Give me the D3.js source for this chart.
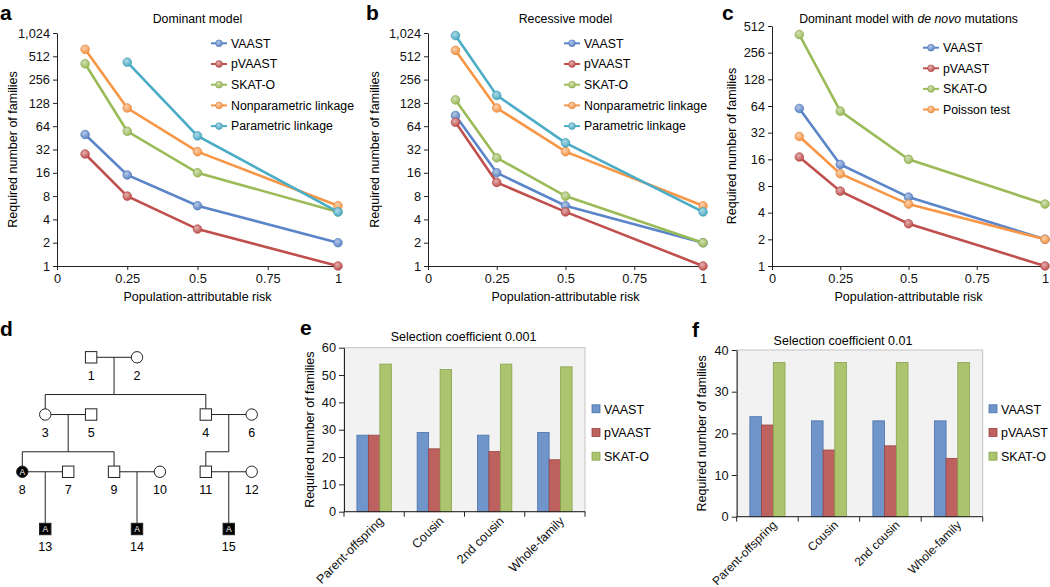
<!DOCTYPE html>
<html>
<head>
<meta charset="utf-8">
<script src="https://cdn.jsdelivr.net/npm/d3@7"></script>
<style>
  body { margin: 0; background: #fff; }
  svg { font-family: "Liberation Sans", Arial, Helvetica, sans-serif; }
  .axis text { font-size: 12.8px; fill: #111; }
  .axis path, .axis line { stroke: #222; }
</style>
</head>
<body>
<div id="fig"></div>
<script>
// ---- data ----
const parValues = [0.1, 0.25, 0.5, 1];
const parTicks = [0, 0.25, 0.5, 0.75, 1];
const logTicksAB = [1, 2, 4, 8, 16, 32, 64, 128, 256, 512, 1024];
const logTicksC = [1, 2, 4, 8, 16, 32, 64, 128, 256, 512];

// a: dominant model
const domVAAST = [50, 15, 6, 2];
const domPVAAST = [28, 8, 3, 1];
const domSKATO = [410, 55, 16, 5];
const domNonpar = [630, 110, 30, 6];
const domPar = [null, 430, 48, 5];

// b: recessive model
const recVAAST = [88, 16, 6, 2];
const recPVAAST = [72, 12, 5, 1];
const recSKATO = [140, 25, 8, 2];
const recNonpar = [610, 110, 30, 6];
const recPar = [950, 160, 39, 5];

// c: dominant model with de novo mutations
const dnVAAST = [60, 14, 6, 2];
const dnPVAAST = [17, 7, 3, 1];
const dnSKATO = [410, 56, 16, 5];
const dnPoisson = [29, 11, 5, 2];

// e, f: bar charts
const barCategories = ["Parent-offspring", "Cousin", "2nd cousin", "Whole-family"];
const barSeries = ["VAAST", "pVAAST", "SKAT-O"];
const s001VAAST = [28, 29, 28, 29];
const s001PVAAST = [28, 23, 22, 19];
const s001SKATO = [54, 52, 54, 53];
const s01VAAST = [24, 23, 23, 23];
const s01PVAAST = [22, 16, 17, 14];
const s01SKATO = [37, 37, 37, 37];

// d: pedigree (gen = generation row, col = grid column)
const pedIds = [1, 2, 3, 5, 4, 6, 8, 7, 9, 10, 11, 12, 13, 14, 15];
const pedSex = ["M", "F", "F", "M", "M", "F", "F", "M", "M", "F", "M", "F", "M", "M", "M"];
const pedGen = [0, 0, 1, 1, 1, 1, 2, 2, 2, 2, 2, 2, 3, 3, 3];
const pedCol = [3, 5, 1, 3, 8, 10, 0, 2, 4, 6, 8, 10, 1, 5, 9];
const pedAffected = [8, 13, 14, 15];
const pedUnions = [[1, 2], [3, 5], [4, 6], [8, 7], [9, 10], [11, 12]];
const pedChildren = [[3, 4], [8, 9], [11], [13], [14], [15]];

// ---- colours ----
const col = {
  "VAAST": "#5a85c9",
  "pVAAST": "#c0504d",
  "SKAT-O": "#9bbb59",
  "Nonparametric linkage": "#f79646",
  "Parametric linkage": "#4bacc6",
  "Poisson test": "#f79646"
};
const barFill = { "VAAST": "#6f95cb", "pVAAST": "#bd625f", "SKAT-O": "#adc46e" };
const barStroke = { "VAAST": "#4c72aa", "pVAAST": "#974341", "SKAT-O": "#87a34c" };

const width = 1050, height = 587;
const svg = d3.select("#fig").append("svg")
  .attr("width", width)
  .attr("height", height);

// marker gradients
const defs = svg.append("defs");
Object.entries(col).forEach(([k, c], i) => {
  const gr = defs.append("radialGradient")
    .attr("id", "mk" + i)
    .attr("cx", "40%").attr("cy", "35%").attr("r", "65%");
  gr.append("stop").attr("offset", "0%").attr("stop-color", d3.interpolateRgb(c, "#fff")(0.55));
  gr.append("stop").attr("offset", "100%").attr("stop-color", c);
  col[k + "_grad"] = "url(#mk" + i + ")";
});

function panelLabel(txt, x, y) {
  svg.append("text").attr("x", x).attr("y", y)
    .attr("font-size", 21).attr("font-weight", "bold").text(txt);
}

function yTitle(x, yMid) {
  svg.append("text")
    .attr("transform", `translate(${x},${yMid}) rotate(-90)`)
    .attr("text-anchor", "middle").attr("dy", "0.35em")
    .attr("font-size", 12.5)
    .text("Required number of families");
}

// ---- line panels (a, b, c) ----
function linePanel(o) {
  const x = d3.scaleLinear().domain([0, 1]).range([o.x0, o.x1]);
  const y = d3.scaleLog().base(2).domain([1, o.yMax]).range([o.yBot, o.yTop]);

  svg.append("g").attr("class", "axis")
    .attr("transform", `translate(0,${o.yBot})`)
    .call(d3.axisBottom(x).tickValues(parTicks).tickFormat(d => String(d)).tickSize(4).tickSizeOuter(0).tickPadding(4));
  svg.append("g").attr("class", "axis")
    .attr("transform", `translate(${o.x0},0)`)
    .call(d3.axisLeft(y).tickValues(o.ticks).tickFormat(d3.format(",")).tickSize(4).tickSizeOuter(0).tickPadding(3));

  const line = d3.line()
    .defined(d => d[1] != null)
    .x(d => x(d[0]))
    .y(d => y(d[1]));

  o.series.forEach(s => {
    const pts = parValues.map((v, i) => [v, s.values[i]]);
    svg.append("path")
      .attr("d", line(pts))
      .attr("fill", "none")
      .attr("stroke", col[s.name])
      .attr("stroke-width", 2.6);
    svg.selectAll(null)
      .data(pts.filter(d => d[1] != null))
      .enter().append("circle")
      .attr("cx", d => x(d[0]))
      .attr("cy", d => y(d[1]))
      .attr("r", 4.3)
      .attr("fill", col[s.name + "_grad"])
      .attr("stroke", d3.color(col[s.name]).darker(0.3))
      .attr("stroke-width", 0.7);
  });

  // legend
  o.series.forEach((s, i) => {
    const ly = o.legY + i * o.legStep;
    svg.append("line")
      .attr("x1", o.legX).attr("x2", o.legX + 16)
      .attr("y1", ly).attr("y2", ly)
      .attr("stroke", col[s.name]).attr("stroke-width", 2);
    svg.append("circle")
      .attr("cx", o.legX + 8).attr("cy", ly).attr("r", 3.4)
      .attr("fill", col[s.name + "_grad"])
      .attr("stroke", d3.color(col[s.name]).darker(0.3)).attr("stroke-width", 0.6);
    svg.append("text")
      .attr("x", o.legX + 20).attr("y", ly).attr("dy", "0.35em")
      .attr("font-size", 12.3).text(s.name);
  });

  // titles
  const t = svg.append("text")
    .attr("x", (o.x0 + o.x1) / 2).attr("y", 23)
    .attr("text-anchor", "middle").attr("font-size", 12.3);
  o.title.forEach(p => t.append("tspan").attr("font-style", p.italic ? "italic" : null).text(p.text));

  svg.append("text")
    .attr("x", (o.x0 + o.x1) / 2).attr("y", 301)
    .attr("text-anchor", "middle").attr("font-size", 12.5)
    .text("Population-attributable risk");
  yTitle(o.yTitleX, (o.yTop + o.yBot) / 2);
}

linePanel({
  x0: 57, x1: 338, yTop: 33, yBot: 266, yMax: 1024, ticks: logTicksAB,
  series: [
    { name: "VAAST", values: domVAAST },
    { name: "pVAAST", values: domPVAAST },
    { name: "SKAT-O", values: domSKATO },
    { name: "Nonparametric linkage", values: domNonpar },
    { name: "Parametric linkage", values: domPar }
  ],
  title: [{ text: "Dominant model" }],
  legX: 211, legY: 43.3, legStep: 20.7, yTitleX: 13
});

linePanel({
  x0: 428, x1: 703, yTop: 33, yBot: 266, yMax: 1024, ticks: logTicksAB,
  series: [
    { name: "VAAST", values: recVAAST },
    { name: "pVAAST", values: recPVAAST },
    { name: "SKAT-O", values: recSKATO },
    { name: "Nonparametric linkage", values: recNonpar },
    { name: "Parametric linkage", values: recPar }
  ],
  title: [{ text: "Recessive model" }],
  legX: 564, legY: 43.3, legStep: 20.7, yTitleX: 375
});

linePanel({
  x0: 772, x1: 1045, yTop: 26, yBot: 266, yMax: 512, ticks: logTicksC,
  series: [
    { name: "VAAST", values: dnVAAST },
    { name: "pVAAST", values: dnPVAAST },
    { name: "SKAT-O", values: dnSKATO },
    { name: "Poisson test", values: dnPoisson }
  ],
  title: [{ text: "Dominant model with " }, { text: "de novo", italic: true }, { text: " mutations" }],
  legX: 923, legY: 47.7, legStep: 20.6, yTitleX: 732
});

panelLabel("a", 0, 20);
panelLabel("b", 366, 20);
panelLabel("c", 722, 20);

// ---- pedigree (d) ----
const pcx = d3.scaleLinear().domain([0, 10]).range([22.3, 251.7]);
const pgy = d3.scaleLinear().domain([0, 3]).range([357.3, 529]);
const ped = pedIds.map((id, i) => ({
  id, sex: pedSex[i], x: pcx(pedCol[i]), y: pgy(pedGen[i]), aff: pedAffected.includes(id)
}));
const byId = new Map(ped.map(p => [p.id, p]));
const pg = svg.append("g").attr("stroke", "#222").attr("stroke-width", 1);

pedUnions.forEach((u, i) => {
  const a = byId.get(u[0]), b = byId.get(u[1]);
  pg.append("line").attr("x1", a.x).attr("x2", b.x).attr("y1", a.y).attr("y2", a.y);
  const mx = (a.x + b.x) / 2;
  const kids = pedChildren[i].map(k => byId.get(k));
  const sy = kids[0].y - 20;
  pg.append("line").attr("x1", mx).attr("x2", mx).attr("y1", a.y).attr("y2", sy);
  const xs = kids.map(k => k.x).concat([mx]);
  pg.append("line").attr("x1", d3.min(xs)).attr("x2", d3.max(xs)).attr("y1", sy).attr("y2", sy);
  kids.forEach(k => pg.append("line").attr("x1", k.x).attr("x2", k.x).attr("y1", sy).attr("y2", k.y));
});

const half = 5.7;
ped.forEach(p => {
  if (p.sex === "M") {
    pg.append("rect").attr("x", p.x - half).attr("y", p.y - half)
      .attr("width", half * 2).attr("height", half * 2)
      .attr("fill", p.aff ? "#000" : "#fff");
  } else {
    pg.append("circle").attr("cx", p.x).attr("cy", p.y).attr("r", half)
      .attr("fill", p.aff ? "#000" : "#fff");
  }
  if (p.aff) {
    svg.append("text").attr("x", p.x).attr("y", p.y).attr("dy", "0.36em")
      .attr("text-anchor", "middle").attr("font-size", 8.5).attr("fill", "#fff")
      .text("A");
  }
  svg.append("text").attr("x", p.x).attr("y", p.y + 18).attr("dy", "0.35em")
    .attr("text-anchor", "middle").attr("font-size", 12.5).text(p.id);
});
panelLabel("d", 0, 336);

// ---- bar panels (e, f) ----
function barPanel(o) {
  const x = d3.scaleBand().domain(barCategories).range([o.x0, o.x1]);
  const xs = d3.scaleBand().domain(barSeries).range([0, x.bandwidth()]).paddingOuter(1.125);
  const y = d3.scaleLinear().domain([0, o.yMax]).range([o.yBot, o.yTop]);

  svg.append("rect")
    .attr("x", o.x0).attr("y", o.yTop)
    .attr("width", o.x1 - o.x0).attr("height", o.yBot - o.yTop)
    .attr("fill", "#f2f2f2").attr("stroke", "#c4c4c4");

  barSeries.forEach((s, si) => {
    svg.selectAll(null)
      .data(o.values[si])
      .enter().append("rect")
      .attr("x", (d, i) => x(barCategories[i]) + xs(s))
      .attr("y", d => y(d))
      .attr("width", xs.bandwidth())
      .attr("height", d => o.yBot - y(d))
      .attr("fill", barFill[s])
      .attr("stroke", barStroke[s])
      .attr("stroke-width", 0.8);
  });

  svg.append("g").attr("class", "axis")
    .attr("transform", `translate(${o.x0},0)`)
    .call(d3.axisLeft(y).ticks(o.yMax / 10).tickSize(5).tickSizeOuter(0).tickPadding(3));

  // category axis: ticks at band edges, rotated labels at band centres
  const xa = svg.append("g").attr("class", "axis").attr("transform", `translate(0,${o.yBot})`);
  xa.append("line").attr("x1", o.x0).attr("x2", o.x1).attr("y1", 0).attr("y2", 0).attr("stroke", "#222");
  barCategories.concat([null]).forEach(c => {
    const tx = c ? x(c) : o.x1;
    xa.append("line").attr("x1", tx).attr("x2", tx).attr("y1", 0).attr("y2", 5).attr("stroke", "#222");
  });
  xa.selectAll("text.cat")
    .data(barCategories)
    .enter().append("text")
    .attr("class", "cat")
    .attr("transform", d => `translate(${x(d) + x.bandwidth() / 2 + 7},${o.catDy}) rotate(-45)`)
    .attr("text-anchor", "end").attr("dy", "0.35em")
    .style("font-size", o.catSize + "px")
    .text(d => d);

  svg.append("text")
    .attr("x", o.titleX).attr("y", o.titleY)
    .attr("text-anchor", "middle").attr("font-size", 12.5)
    .text(o.title);

  barSeries.forEach((s, i) => {
    const ly = o.legY + i * 23.7;
    svg.append("rect")
      .attr("x", o.legX).attr("y", ly - 4.5).attr("width", 8).attr("height", 8)
      .attr("fill", barFill[s]).attr("stroke", barStroke[s]).attr("stroke-width", 0.8);
    svg.append("text")
      .attr("x", o.legX + 12).attr("y", ly).attr("dy", "0.35em")
      .attr("font-size", 12.5).text(s);
  });
  yTitle(o.yTitleX, (o.yTop + o.yBot) / 2);
}

barPanel({
  x0: 344, x1: 585, yTop: 347.7, yBot: 511.7, yMax: 60,
  values: [s001VAAST, s001PVAAST, s001SKATO],
  title: "Selection coefficient 0.001", titleX: 463.5, titleY: 341,
  legX: 592, legY: 409.3, yTitleX: 310, catSize: 12.5, catDy: 7
});

barPanel({
  x0: 736.7, x1: 982.7, yTop: 350, yBot: 516.7, yMax: 40,
  values: [s01VAAST, s01PVAAST, s01SKATO],
  title: "Selection coefficient 0.01", titleX: 843, titleY: 345,
  legX: 989, legY: 409.3, yTitleX: 702, catSize: 12, catDy: 6
});

panelLabel("e", 300, 335);
panelLabel("f", 692, 337);
</script>
</body>
</html>
